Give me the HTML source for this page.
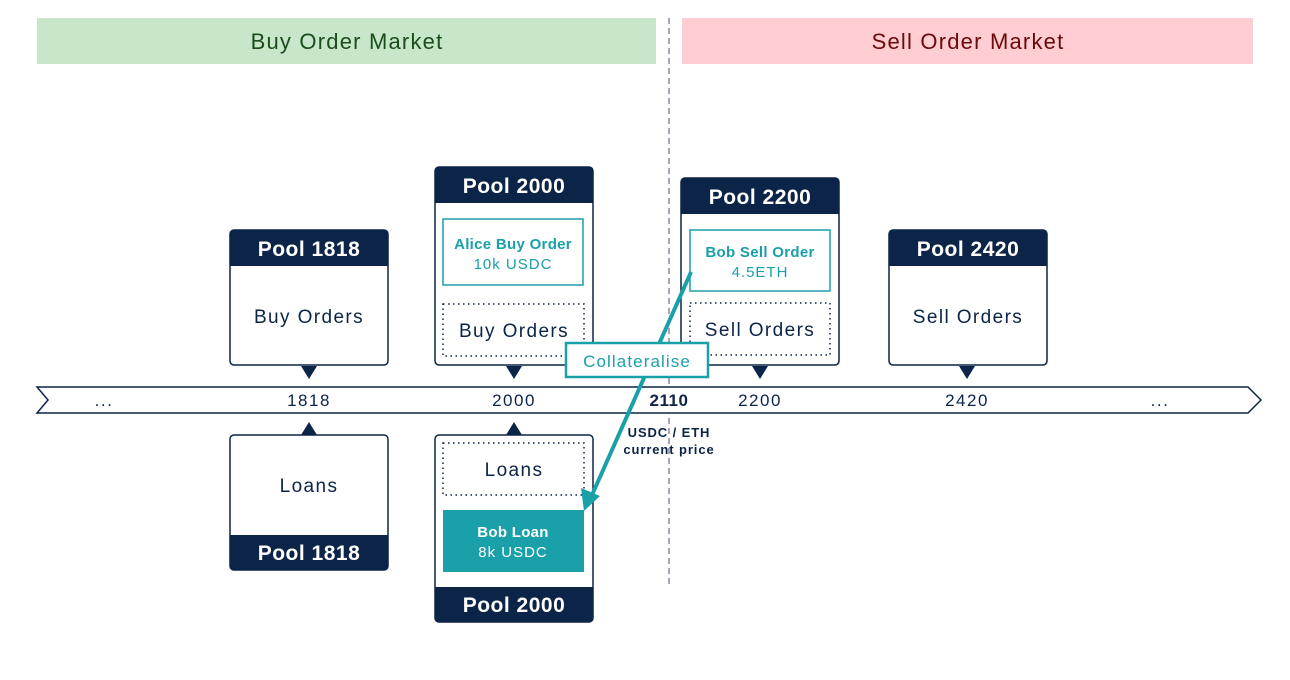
<!DOCTYPE html>
<html><head><meta charset="utf-8"><style>
body{margin:0;background:#fff}
svg{display:block;font-family:"Liberation Sans",sans-serif}
</style></head><body>
<svg width="1290" height="680" viewBox="0 0 1290 680">
<rect x="37" y="18" width="619" height="46" fill="#c8e6c9"/>
<text x="347" y="49" font-size="22" letter-spacing="1.2" fill="#1b4d1b" text-anchor="middle">Buy Order Market</text>
<rect x="682" y="18" width="571" height="46" fill="#ffcdd2"/>
<text x="968" y="49" font-size="22" letter-spacing="1.2" fill="#6b0a0a" text-anchor="middle">Sell Order Market</text>
<line x1="669" y1="18" x2="669" y2="585" stroke="#8a8a9a" stroke-width="1.5" stroke-dasharray="6,4"/>

<polygon points="37,387 1248,387 1261,400 1248,413 37,413 48,400" fill="#fff" stroke="#0b2447" stroke-width="1.5"/>
<g font-size="17" letter-spacing="1.5" fill="#0b2447" text-anchor="middle">
<text x="104" y="406">...</text><text x="309" y="406">1818</text><text x="514" y="406">2000</text>
<text x="669" y="406" font-weight="bold" letter-spacing="0.5">2110</text><text x="760" y="406">2200</text><text x="967" y="406">2420</text><text x="1160" y="406">...</text>
</g>
<text x="669" y="437" font-size="13" letter-spacing="0.9" font-weight="bold" fill="#0b2447" text-anchor="middle">USDC / ETH</text>
<text x="669" y="454" font-size="13" letter-spacing="0.9" font-weight="bold" fill="#0b2447" text-anchor="middle">current price</text>

<g>
<rect x="230" y="230" width="158" height="135" fill="#fff" stroke="#0b2447" stroke-width="1.5" rx="4"/>
<path d="M230,266 V234 a4,4 0 0 1 4,-4 H384 a4,4 0 0 1 4,4 V266 Z" fill="#0b2447"/>
<text x="309" y="256" font-size="21" letter-spacing="0.5" font-weight="bold" fill="#fff" text-anchor="middle">Pool 1818</text>
<text x="309" y="323" font-size="19" letter-spacing="1.4" fill="#0b2447" text-anchor="middle">Buy Orders</text>
<polygon points="301,366 317,366 309,379" fill="#0b2447"/>
</g>
<g>
<rect x="435" y="167" width="158" height="198" fill="#fff" stroke="#0b2447" stroke-width="1.5" rx="4"/>
<path d="M435,203 V171 a4,4 0 0 1 4,-4 H589 a4,4 0 0 1 4,4 V203 Z" fill="#0b2447"/>
<text x="514" y="193" font-size="21" letter-spacing="0.5" font-weight="bold" fill="#fff" text-anchor="middle">Pool 2000</text>
<rect x="443" y="219" width="140" height="66" fill="#fff" stroke="#1aa0a8" stroke-width="1.5"/>
<text x="513" y="249" font-size="15" letter-spacing="0.3" font-weight="bold" fill="#1aa0a8" text-anchor="middle">Alice Buy Order</text>
<text x="513" y="269" font-size="15" letter-spacing="1" fill="#1aa0a8" text-anchor="middle">10k USDC</text>
<rect x="443" y="304" width="141" height="52" fill="none" stroke="#0b2447" stroke-width="1.5" stroke-dasharray="1.5,3.5"/>
<text x="514" y="337" font-size="19" letter-spacing="1.4" fill="#0b2447" text-anchor="middle">Buy Orders</text>
<polygon points="506,366 522,366 514,379" fill="#0b2447"/>
</g>
<g>
<rect x="681" y="178" width="158" height="187" fill="#fff" stroke="#0b2447" stroke-width="1.5" rx="4"/>
<path d="M681,214 V182 a4,4 0 0 1 4,-4 H835 a4,4 0 0 1 4,4 V214 Z" fill="#0b2447"/>
<text x="760" y="204" font-size="21" letter-spacing="0.5" font-weight="bold" fill="#fff" text-anchor="middle">Pool 2200</text>
<rect x="690" y="230" width="140" height="61" fill="#fff" stroke="#1aa0a8" stroke-width="1.5"/>
<text x="760" y="257" font-size="15" letter-spacing="0.3" font-weight="bold" fill="#1aa0a8" text-anchor="middle">Bob Sell Order</text>
<text x="760" y="277" font-size="15" letter-spacing="1" fill="#1aa0a8" text-anchor="middle">4.5ETH</text>
<rect x="690" y="303" width="140" height="52" fill="none" stroke="#0b2447" stroke-width="1.5" stroke-dasharray="1.5,3.5"/>
<text x="760" y="336" font-size="19" letter-spacing="1.4" fill="#0b2447" text-anchor="middle">Sell Orders</text>
<polygon points="752,366 768,366 760,379" fill="#0b2447"/>
</g>
<g>
<rect x="889" y="230" width="158" height="135" fill="#fff" stroke="#0b2447" stroke-width="1.5" rx="4"/>
<path d="M889,266 V234 a4,4 0 0 1 4,-4 H1043 a4,4 0 0 1 4,4 V266 Z" fill="#0b2447"/>
<text x="968" y="256" font-size="21" letter-spacing="0.5" font-weight="bold" fill="#fff" text-anchor="middle">Pool 2420</text>
<text x="968" y="323" font-size="19" letter-spacing="1.4" fill="#0b2447" text-anchor="middle">Sell Orders</text>
<polygon points="959,366 975,366 967,379" fill="#0b2447"/>
</g>
<g>
<polygon points="301,435 317,435 309,422" fill="#0b2447"/>
<rect x="230" y="435" width="158" height="135" fill="#fff" stroke="#0b2447" stroke-width="1.5" rx="4"/>
<path d="M230,535 H388 V566 a4,4 0 0 1 -4,4 H234 a4,4 0 0 1 -4,-4 Z" fill="#0b2447"/>
<text x="309" y="492" font-size="19" letter-spacing="1.4" fill="#0b2447" text-anchor="middle">Loans</text>
<text x="309" y="560" font-size="21" letter-spacing="0.5" font-weight="bold" fill="#fff" text-anchor="middle">Pool 1818</text>
</g>
<g>
<polygon points="506,435 522,435 514,422" fill="#0b2447"/>
<rect x="435" y="435" width="158" height="187" fill="#fff" stroke="#0b2447" stroke-width="1.5" rx="4"/>
<path d="M435,587 H593 V618 a4,4 0 0 1 -4,4 H439 a4,4 0 0 1 -4,-4 Z" fill="#0b2447"/>
<rect x="443" y="443" width="141" height="52" fill="none" stroke="#0b2447" stroke-width="1.5" stroke-dasharray="1.5,3.5"/>
<text x="514" y="476" font-size="19" letter-spacing="1.4" fill="#0b2447" text-anchor="middle">Loans</text>
<rect x="443" y="510" width="141" height="62" fill="#1aa0a8"/>
<text x="513" y="537" font-size="15" letter-spacing="0.3" font-weight="bold" fill="#fff" text-anchor="middle">Bob Loan</text>
<text x="513" y="557" font-size="15" letter-spacing="1" fill="#fff" text-anchor="middle">8k USDC</text>
<text x="514" y="612" font-size="21" letter-spacing="0.5" font-weight="bold" fill="#fff" text-anchor="middle">Pool 2000</text>
</g>
<g>
<line x1="691" y1="272" x2="592" y2="495" stroke="#1aa0a8" stroke-width="4"/>
<polygon points="584,511 581,488 600,496" fill="#1aa0a8"/>
<rect x="566" y="343" width="142" height="34" fill="#fff" stroke="#1aa0a8" stroke-width="2.5"/>
<text x="637" y="367" font-size="17" letter-spacing="1.1" fill="#1aa0a8" text-anchor="middle">Collateralise</text>
</g>
</svg>
</body></html>
